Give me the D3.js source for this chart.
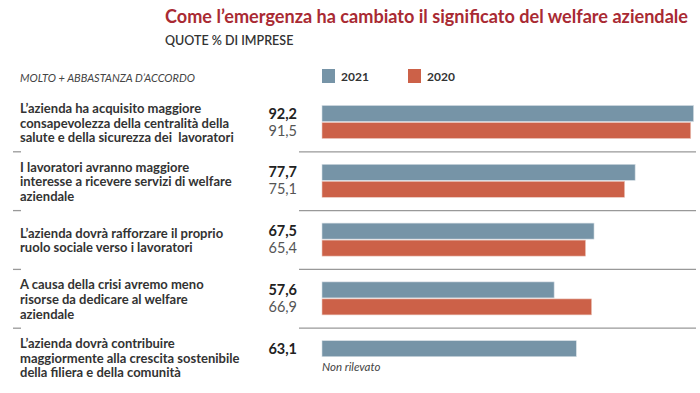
<!DOCTYPE html>
<html><head><meta charset="utf-8">
<script src="https://cdn.jsdelivr.net/npm/d3@7"></script>
<style>body{margin:0;background:#fff}svg{display:block}text{font-family:Lato,"Open Sans",sans-serif;white-space:pre}</style>
</head><body><svg id="c" width="700" height="393"></svg>
<script>
const categories = [
  ["L’azienda ha acquisito maggiore","consapevolezza della centralità della","salute e della sicurezza dei  lavoratori"],
  ["I lavoratori avranno maggiore","interesse a ricevere servizi di welfare","aziendale"],
  ["L’azienda dovrà rafforzare il proprio","ruolo sociale verso i lavoratori"],
  ["A causa della crisi avremo meno","risorse da dedicare al welfare","aziendale"],
  ["L’azienda dovrà contribuire","maggiormente alla crescita sostenibile","della filiera e della comunità"]
];
const values2021 = [92.2, 77.7, 67.5, 57.6, 63.1];
const values2020 = [91.5, 75.1, 65.4, 66.9, null];
const seriesNames = ["2021", "2020"];
const colors = ["#7694a7", "#cc6148"];

const svg = d3.select("#c");
const x = d3.scaleLinear().domain([0, 100]).range([322, 725]);
const y = d3.scaleBand().domain(d3.range(categories.length)).range([93, 387]).paddingInner(0).paddingOuter(0);
const fmt = v => d3.format(".1f")(v).replace(".", ",");

// title
svg.append("text").attr("x",165).attr("y",23).attr("font-size",18.1).attr("font-weight",700)
  .attr("fill","#a92a33").text("Come l’emergenza ha cambiato il significato del welfare aziendale");
svg.append("text").attr("x",165).attr("y",45).attr("font-size",12.5).attr("font-weight",600)
  .attr("fill","#333").text("QUOTE % DI IMPRESE");
svg.append("text").attr("x",20).attr("y",82).attr("font-size",11).attr("font-style","italic")
  .attr("fill","#444").text("MOLTO + ABBASTANZA D’ACCORDO");

// legend
const lx = [322, 408];
seriesNames.forEach((s,i)=>{
  svg.append("rect").attr("x",lx[i]).attr("y",69).attr("width",13).attr("height",14).attr("fill",colors[i]);
  svg.append("text").attr("x",lx[i]+19).attr("y",81).attr("font-size",12).attr("font-weight",700)
    .attr("fill","#333").text(s);
});

const barH = 16, off = 12.5, gap = 1;
categories.forEach((lines,i)=>{
  const y0 = y(i);
  const bw = y.bandwidth();
  const n = lines.length, lh = 14.6;
  const cy = y0 + off + barH + gap/2 + 1;
  const t = svg.append("text").attr("font-size",13).attr("font-weight",700).attr("fill","#333");
  lines.forEach((l,j)=>{
    t.append("tspan").attr("x",20).attr("y", cy - (n-1)*lh/2 + j*lh + 4.5).text(l);
  });
  const b1y = y0+off, b2y = y0+off+barH+gap;
  svg.append("rect").attr("x",x(0)).attr("y",b1y).attr("width",x(values2021[i])-x(0)).attr("height",barH)
    .attr("fill",colors[0]).attr("stroke","#d4dde3").attr("stroke-width",0.6);
  svg.append("text").attr("x",297).attr("y",b1y+barH/2+5).attr("text-anchor","end").attr("font-size",14.5)
    .attr("font-weight",700).attr("fill","#222").text(fmt(values2021[i]));
  if (values2020[i] != null) {
    svg.append("rect").attr("x",x(0)).attr("y",b2y).attr("width",x(values2020[i])-x(0)).attr("height",barH)
      .attr("fill",colors[1]).attr("stroke","#ecc9bf").attr("stroke-width",0.6);
    svg.append("text").attr("x",297).attr("y",b2y+barH/2+5).attr("text-anchor","end").attr("font-size",14.5)
      .attr("fill","#555").text(fmt(values2020[i]));
  } else {
    svg.append("text").attr("x",322).attr("y",b2y+barH/2+5).attr("font-size",11.5).attr("font-style","italic")
      .attr("fill","#444").text("Non rilevato");
  }
  if (i < categories.length-1) {
    const sy = y0 + bw;
    svg.append("line").attr("x1",299).attr("x2",696).attr("y1",sy).attr("y2",sy)
      .attr("stroke","#999").attr("stroke-width",1.3);
    svg.append("line").attr("x1",13).attr("x2",21).attr("y1",sy).attr("y2",sy)
      .attr("stroke","#999").attr("stroke-width",1.3);
  }
});
</script></body></html>
